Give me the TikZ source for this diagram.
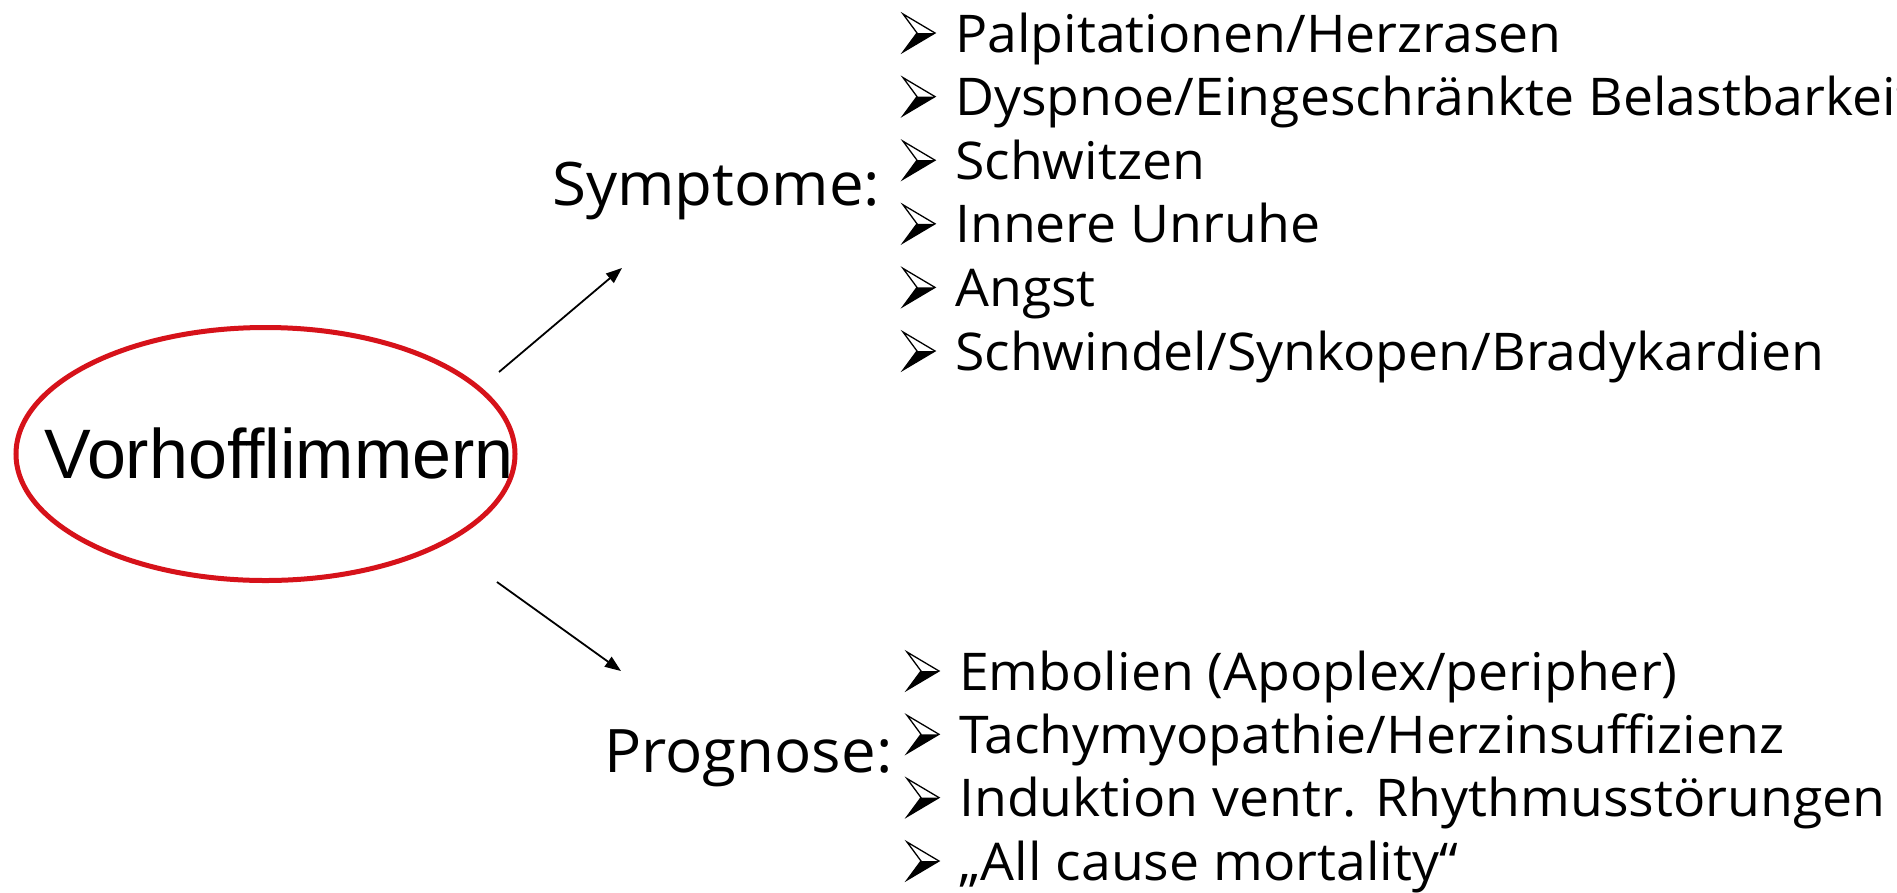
\documentclass[tikz,border=0pt]{standalone}
\usepackage{fontspec}
\usetikzlibrary{arrows.meta,shapes.geometric}
\newfontfamily\listfont[FakeStretch=1.03]{Open Sans}
\newfontfamily\arialfont{Liberation Sans}
\definecolor{ovalred}{RGB}{214,18,26}
\tikzset{
  itemtxt/.style={anchor=base west, inner sep=0pt, font=\listfont\fontsize{52}{62}\selectfont},
  headtxt/.style={anchor=base west, inner sep=0pt, font=\listfont\fontsize{60}{72}\selectfont},
  conn/.style={line width=1.8pt, -{Triangle[length=16pt,width=12pt]}},
  oval/.style={ellipse, draw=ovalred, line width=5pt, inner sep=0pt, minimum width=499pt, minimum height=253pt},
  bul/.pic={
    \fill[black] (14,-19) -- (32,-19) -- (0,0) -- cycle;
    \draw[line width=1.3pt, line join=miter] (0,-38) -- (32,-19) -- (0,0) -- (14,-19) -- cycle;
  }
}
\begin{document}
\begin{tikzpicture}[x=1pt,y=-1pt]
\useasboundingbox (0,0) rectangle (1897,892);
% central oval
\node[oval] (vf) at (265.5,454) {};
\node[anchor=base west, inner sep=0pt, font=\arialfont\fontsize{70}{84}\selectfont] (vftxt) at (44,478) {Vorhofflimmern};
% arrows
\coordinate (a1s) at (499,372);
\coordinate (a1e) at (622,268);
\coordinate (a2s) at (497,582);
\coordinate (a2e) at (621,671);
\draw[conn] (a1s) -- (a1e);
\draw[conn] (a2s) -- (a2e);
% headings
\node[headtxt] (symp) at (552,205) {Symptome:};
\node[headtxt] (progn) at (604,772) {Prognose:};
% symptom list
\node[itemtxt] (s1) at (955,52) {Palpitationen/Herzrasen};
\node[itemtxt] (s2) at (955,115.6) {Dyspnoe/Eingeschränkte Belastbarkeit};
\node[itemtxt] (s3) at (955,179.2) {Schwitzen};
\node[itemtxt] (s4) at (955,242.8) {Innere Unruhe};
\node[itemtxt] (s5) at (955,306.4) {Angst};
\node[itemtxt] (s6) at (955,370) {Schwindel/Synkopen/Bradykardien};
\foreach \yy in {52,115.6,179.2,242.8,306.4,370}{
  \pic at (903,\yy) {bul};
}
% prognosis list
\node[itemtxt] (p1) at (959,690) {Embolien (Apoplex/peripher)};
\node[itemtxt] (p2) at (959,753.3) {Tachymyopathie/Herzinsuffizienz};
\node[itemtxt] (p3) at (959,816.6) {Induktion ventr. Rhythmusstörungen};
\node[itemtxt] (p4) at (959,880) {„All cause mortality“};
\foreach \yy in {690,753.3,816.6,880}{
  \pic at (907,\yy) {bul};
}
\end{tikzpicture}
\end{document}
